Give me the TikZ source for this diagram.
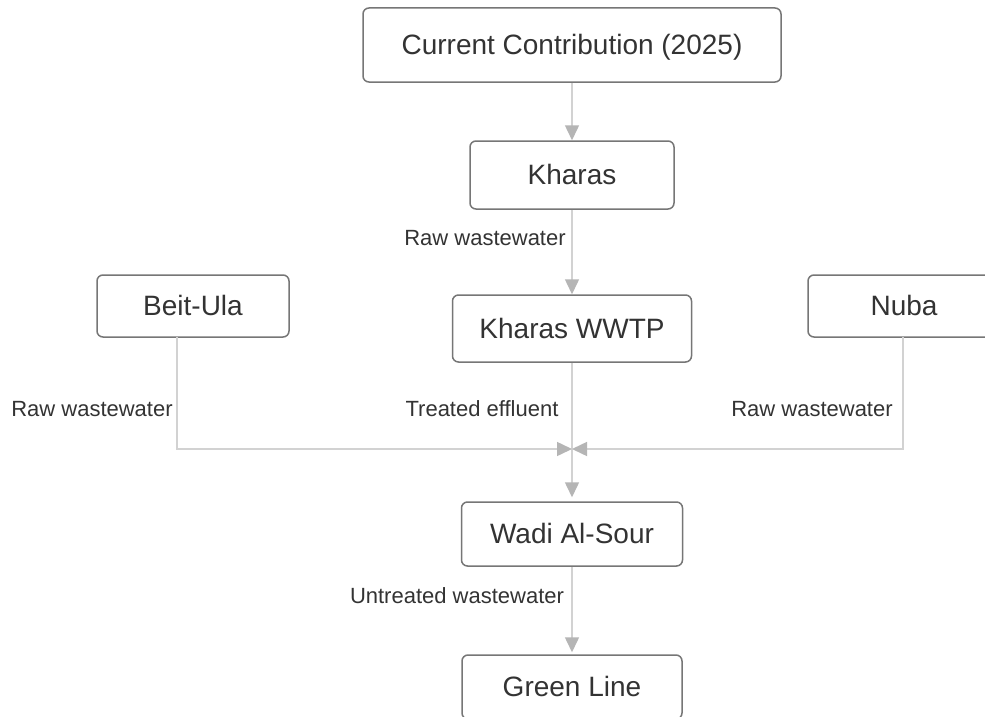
\documentclass[tikz,border=0pt]{standalone}
\usepackage{fontspec}
\setmainfont{Liberation Sans}
\usetikzlibrary{arrows.meta}
\definecolor{boxline}{HTML}{767676}
\definecolor{txt}{HTML}{333333}
\definecolor{conn}{HTML}{D2D2D2}
\definecolor{tipc}{HTML}{B5B5B5}
\tikzset{
  box/.style={draw=boxline, line width=1.5pt, rounded corners=6pt, fill=white,
    text=txt, font=\fontsize{28}{33}\selectfont, inner sep=0pt,
    text height=19pt, text depth=0pt},
  lbl/.style={text=txt, font=\fontsize{22}{26}\selectfont, inner sep=0pt},
  flow/.style={draw=conn, line width=1.5pt,
    -{Triangle[length=15pt,width=14pt,fill=tipc,color=tipc]}}
}
\begin{document}
\begin{tikzpicture}[x=1pt,y=-1pt]
\useasboundingbox (0,0) rectangle (985,717);
\clip (0,0) rectangle (985,717);
\fill[white] (0,0) rectangle (985,717);
\node[box, minimum width=418pt, minimum height=74pt] (cur) at (572,45) {Current Contribution (2025)};
\node[box, minimum width=204pt, minimum height=68pt] (kharas) at (572,175) {Kharas};
\node[box, minimum width=239pt, minimum height=67pt] (wwtp) at (572,328.5) {Kharas WWTP};
\node[box, minimum width=192pt, minimum height=62pt] (beit) at (193,306) {Beit-Ula};
\node[box, minimum width=192pt, minimum height=62pt] (nuba) at (904,306) {Nuba};
\node[box, minimum width=221pt, minimum height=64pt] (wadi) at (572,534) {Wadi Al-Sour};
\node[box, minimum width=220pt, minimum height=64pt] (green) at (572,687) {Green Line};
\coordinate (j) at (572,449);
\coordinate (bs) at (177,337);
\coordinate (ns) at (903,337);

\draw[flow] (cur) -- (kharas);
\draw[flow] (kharas) -- (wwtp);
\draw[flow, shorten >=4pt] (wwtp) -- (wadi);
\draw[flow] (bs) |- (j);
\draw[flow] (ns) |- (j);
\draw[flow, shorten >=2pt] (wadi) -- (green);

\node[lbl] (l1) at (485,238) {Raw wastewater};
\node[lbl] (l2) at (92,409) {Raw wastewater};
\node[lbl] (l3) at (482,409) {Treated effluent};
\node[lbl] (l4) at (812,409) {Raw wastewater};
\node[lbl] (l5) at (457,596) {Untreated wastewater};
\end{tikzpicture}
\end{document}
